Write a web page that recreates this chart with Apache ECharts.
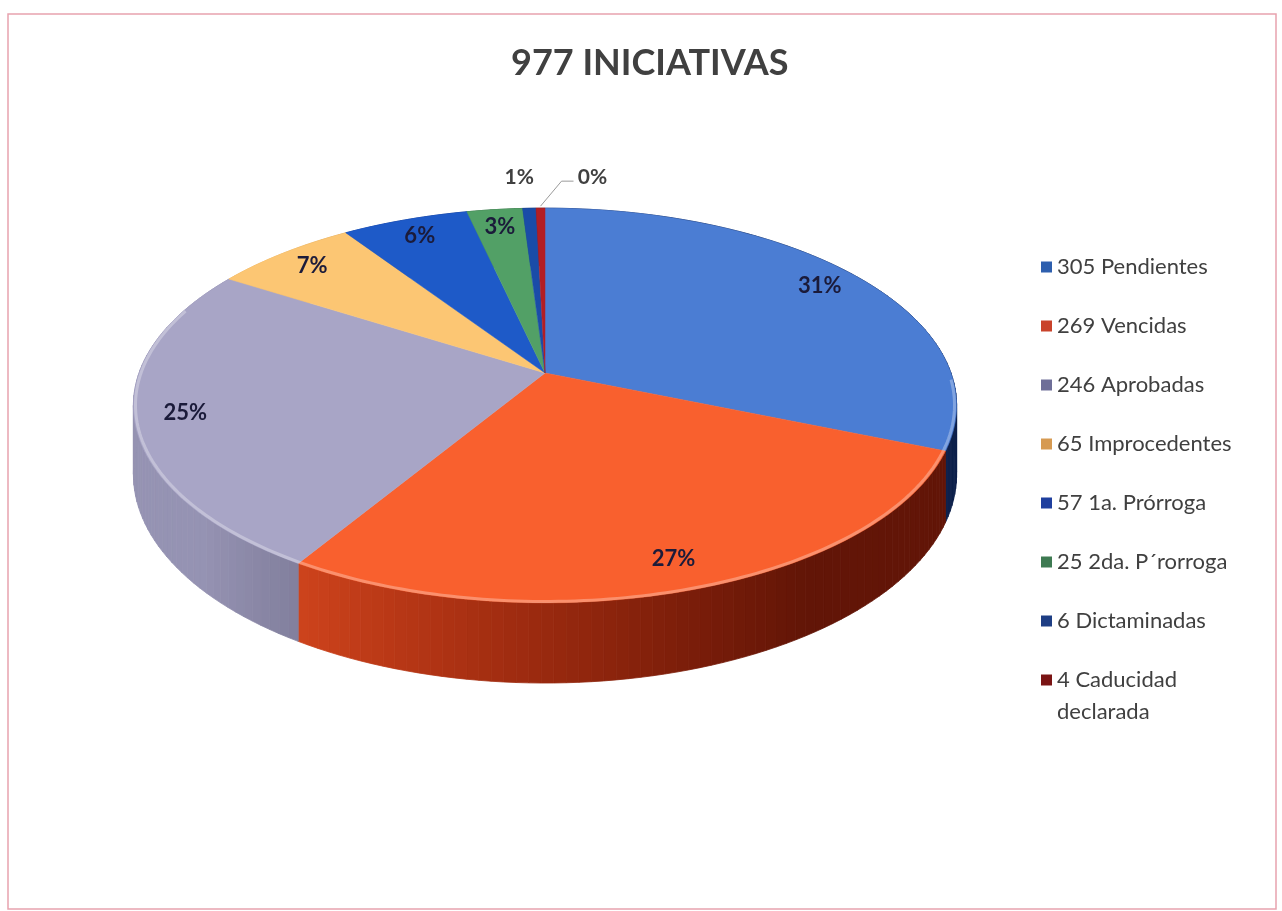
<!DOCTYPE html>
<html>
<head>
    <meta charset="utf-8">
    <title>977 INICIATIVAS</title>
    <script src="https://cdn.jsdelivr.net/npm/echarts@6/dist/echarts.min.js"></script>
    <style>
        html, body { margin: 0; padding: 0; background: #fff; }
        #chart { width: 1282px; height: 911px; }
    </style>
</head>
<body>
<div id="chart"></div>
<script type="text/javascript">

    // datos
    var categories = ['Pendientes', 'Vencidas', 'Aprobadas', 'Improcedentes', '1a. Prórroga', '2da. P´rorroga', 'Dictaminadas', 'Caducidad\ndeclarada'];
    var values = [305, 269, 246, 65, 57, 25, 6, 4];
    var pctLabels = ['31%', '27%', '25%', '7%', '6%', '3%', '1%', '0%'];

    // colores de las caras superiores y de la leyenda
    var colors = ['#4B7DD3', '#F9602E', '#A8A5C6', '#FCC673', '#1E5AC8', '#52A066', '#1A4CA8', '#B21E24'];
    var legendColors = ['#2E5FAE', '#C9432B', '#6E6E98', '#D69A52', '#1F3F9E', '#3E7A52', '#1E3E84', '#7A1414'];

    var total = values.reduce(function (a, b) { return a + b; }, 0);
    var starts = [];
    var acc = 0;
    values.forEach(function (v) { starts.push(acc / total * 360); acc += v; });

    // proyeccion en perspectiva del pastel 3D
    var cx = 545, cy = 373, RX = 406, RY = 192, K = 0.1646, DEPTH = 67;
    function proj(a, r, h) {
        var t = a * Math.PI / 180;
        var x = r * Math.sin(t), y = r * Math.cos(t);
        var w = 1 + K * y;
        return [cx + RX * x / w, cy - RY * y / w + DEPTH * h / w];
    }
    function shade(hex, f) {
        var e = 2 - f;
        function ch(i) {
            var c = parseInt(hex.slice(i, i + 2), 16);
            return Math.round(255 * Math.pow(c / 255, e) * f);
        }
        return 'rgb(' + ch(1) + ',' + ch(3) + ',' + ch(5) + ')';
    }
    function wallLight(a) {
        var s = Math.sin(a * Math.PI / 180);
        return Math.min(0.92, Math.max(0.4, 0.62 - 0.4 * s));
    }

    // etiquetas fuera del pastel para las porciones pequenas
    var outside = { 6: { dx: -10, dy: -31 }, 7: { dx: 52, dy: -31, leader: true } };

    function renderItem(params, api) {
        var i = params.dataIndex;
        var a0 = starts[i];
        var a1 = a0 + api.value(0) / total * 360;
        var children = [];

        // pared lateral
        var n = Math.max(1, Math.ceil((a1 - a0) / 1.5));
        for (var j = 0; j < n; j++) {
            var p = a0 + (a1 - a0) * j / n, q = a0 + (a1 - a0) * (j + 1) / n;
            var c = shade(colors[i], wallLight((p + q) / 2));
            children.push({
                type: 'polygon', z2: 1,
                shape: { points: [proj(p, 1, 0), proj(q, 1, 0), proj(q, 1, 1), proj(p, 1, 1)] },
                style: { fill: c, stroke: c, lineWidth: 0.8 }
            });
        }

        // cara superior
        var pts = [proj(0, 0, 0)];
        var m = Math.max(2, Math.ceil(a1 - a0));
        for (var k = 0; k <= m; k++) pts.push(proj(a0 + (a1 - a0) * k / m, 1, 0));
        children.push({
            type: 'polygon', z2: 5,
            shape: { points: pts },
            style: { fill: colors[i], stroke: colors[i], lineWidth: 0.5 }
        });

        // brillo del borde frontal
        var b0 = Math.max(a0, 92), b1 = Math.min(a1, 290);
        if (b1 > b0) {
            var rim = [];
            for (var r = b0; r <= b1; r += 1) rim.push(proj(r, 0.995, 0));
            rim.push(proj(b1, 0.995, 0));
            children.push({
                type: 'polyline', z2: 6,
                shape: { points: rim },
                style: { fill: null, stroke: 'rgba(255,255,255,0.3)', lineWidth: 3 }
            });
        }

        // etiqueta de porcentaje
        var mid = (a0 + a1) / 2;
        if (outside[i]) {
            var o = outside[i];
            var e = proj(mid, 1, 0);
            children.push({
                type: 'text', z2: 10, x: e[0] + o.dx, y: e[1] + o.dy,
                style: { text: pctLabels[i], font: 'bold 21px Lato', fill: '#404040', align: 'center', verticalAlign: 'middle' }
            });
            if (o.leader) {
                children.push({
                    type: 'polyline', z2: 10,
                    shape: { points: [[e[0], e[1] - 2], [e[0] + 21, e[1] - 27], [e[0] + 33, e[1] - 27]] },
                    style: { fill: null, stroke: '#9a9a9a', lineWidth: 1 }
                });
            }
        } else {
            var l = proj(mid, 0.88, 0);
            children.push({
                type: 'text', z2: 10, x: l[0], y: l[1],
                style: { text: pctLabels[i], font: 'bold 22px Lato', fill: '#1B1B3A', align: 'center', verticalAlign: 'middle' }
            });
        }
        return { type: 'group', children: children };
    }

    function legendText(name) {
        return values[categories.indexOf(name)] + ' ' + name;
    }
    var legendBase = {
        orient: 'vertical',
        left: 1041,
        padding: 0,
        itemGap: 27,
        itemWidth: 11,
        itemHeight: 11,
        icon: 'rect',
        selectedMode: false,
        textStyle: { fontFamily: 'Lato', fontSize: 22, color: '#404040', lineHeight: 32 }
    };
    var last = categories.length - 1;

    var myChart = echarts.init(document.getElementById('chart'));

    myChart.setOption({
        backgroundColor: '#ffffff',
        animation: false,
        title: {
            text: '977 INICIATIVAS',
            left: 506,
            top: 40,
            textStyle: { fontFamily: 'Lato', fontWeight: 'bold', fontSize: 36, color: '#404040' }
        },
        legend: [
            echarts.util.extend({ top: 251, formatter: legendText, data: categories.slice(0, last) }, legendBase),
            // la ultima entrada va en dos lineas, con el marcador junto a la primera
            echarts.util.extend({
                top: 632,
                formatter: function (name) { return ' \n' + legendText(name); },
                data: [categories[last]]
            }, legendBase)
        ],
        graphic: [{
            type: 'rect', silent: true, z: -1,
            shape: { x: 8, y: 14, width: 1268, height: 895 },
            style: { fill: null, stroke: '#E8A3AE', lineWidth: 1.5 }
        }],
        series: [{
            name: 'pastel3d',
            type: 'custom',
            coordinateSystem: 'none',
            renderItem: renderItem,
            data: values
        }, {
            // solo para la leyenda
            name: 'leyenda',
            type: 'pie',
            radius: [0, 0],
            center: [cx, cy],
            silent: true,
            label: { show: false },
            labelLine: { show: false },
            data: categories.map(function (c, i) {
                return { name: c, value: values[i], itemStyle: { color: legendColors[i] } };
            })
        }]
    });

</script>
</body>
</html>
